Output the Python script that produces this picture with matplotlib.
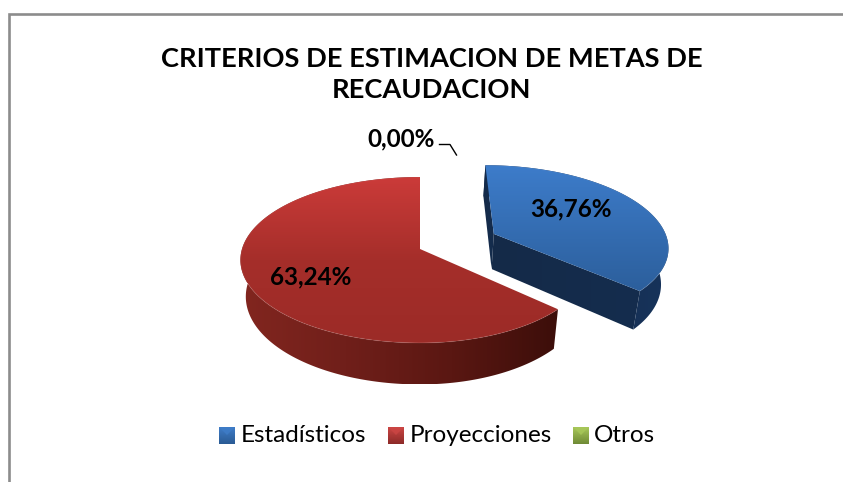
import numpy as np
import matplotlib
matplotlib.use("Agg")
import matplotlib.pyplot as plt
from matplotlib.colors import LinearSegmentedColormap
from matplotlib.patches import Polygon

categorias = ["Estadísticos", "Proyecciones", "Otros"]
valores = [36.76, 63.24, 0.0]
titulo = "CRITERIOS DE ESTIMACION DE METAS DE\nRECAUDACION"

plt.rcParams["font.family"] = ["Lato", "DejaVu Sans"]

W, H = 843, 482
fig = plt.figure(figsize=(W / 100, H / 100), dpi=100)
ax = fig.add_axes([0, 0, 1, 1])
ax.set_xlim(0, W)
ax.set_ylim(H, 0)
ax.axis("off")

# proyeccion del disco a pixeles (con algo de perspectiva)
CX, CY = 420, 249
A_IZQ, B, K = 178, 81.5, 0.1325
ALTO = 36
SEPARA = 0.47
ENCOGE = 0.03  # la base se ve un poco mas angosta que la cara de arriba


def proyectar(u, v, a_der):
    u, v = np.asarray(u, float), np.asarray(v, float)
    w = 1 + K * v
    a = np.where(u > 0, a_der, A_IZQ)
    return CX + a * u / w, CY - B * v / w, ALTO / w


def gradiente(colores, clip, extent, vertical=True):
    cmap = LinearSegmentedColormap.from_list("g", colores)
    g = np.linspace(0, 1, 256)
    g = g.reshape(-1, 1) if vertical else g.reshape(1, -1)
    im = ax.imshow(g, cmap=cmap, extent=extent, aspect="auto", zorder=clip[1], interpolation="bilinear")
    p = Polygon(clip[0], closed=True, transform=ax.transData)
    im.set_clip_path(p)


def pared(pu, pv, a_der, colores, z, vertical=False):
    x, y, d = proyectar(pu, pv, a_der)
    xb = x - ENCOGE * (x - CX)
    pts = np.vstack([np.c_[x, y], np.c_[xb, y + d][::-1]])
    ext = (pts[:, 0].min(), pts[:, 0].max(), pts[:, 1].max(), pts[:, 1].min())
    gradiente(colores, (pts, z), ext, vertical)


def porcion(ini, fin, sep, a_der, cara, lado, corte, z):
    t = np.radians(np.linspace(ini, fin, 200))
    medio = np.radians((ini + fin) / 2)
    ou, ov = sep * np.sin(medio), sep * np.cos(medio)
    u, v = ou + np.sin(t), ov + np.cos(t)
    # paredes primero, la cara de arriba las tapa
    if corte is not None:
        pared([ou, u[0]], [ov, v[0]], a_der, corte, z)
        pared([ou, u[-1]], [ov, v[-1]], a_der, corte, z)
    pared(u, v, a_der, lado, z + 0.1)
    x, y, _ = proyectar(np.r_[ou, u], np.r_[ov, v], a_der)
    pts = np.c_[x, y]
    ext = (x.min(), x.max(), y.max(), y.min())
    gradiente(cara, (pts, z + 0.2), ext)
    # brillo del borde
    bx, by, _ = proyectar(u, v, a_der)
    ax.plot(bx, by, color="white", alpha=0.06, lw=1, zorder=z + 0.3)


total = sum(valores)
ang_azul = 360 * valores[0] / total
ang_rojo = 360 * valores[1] / total

porcion(ang_azul, ang_azul + ang_rojo, 0, 170,
        ["#cb3b39", "#a52e2a", "#9c2b27"],
        ["#82261f", "#701f1a", "#5a1712", "#3c0e0a"],
        None, 2)
porcion(0, ang_azul, SEPARA, 176,
        ["#3d7cca", "#2c5f9c"],
        ["#132a4a", "#17335a"],
        ["#142a48", "#152d4e"], 3)

# etiquetas
fmt = [f"{v:.2f}%".replace(".", ",") for v in valores]
pos_etq = [(571, 209), (311, 277), (401, 139)]
for txt, (px, py) in zip(fmt, pos_etq):
    ax.text(px, py, txt, ha="center", va="center", fontsize=17.5, fontweight="bold", color="black", zorder=10)
ax.plot([439.5, 450, 456.5], [144.5, 144.5, 155], color="black", lw=1, zorder=10)

# titulo
ax.text(432, 74.5, titulo, ha="center", va="center", fontsize=19.6, fontweight="bold",
        color="black", linespacing=1.36, zorder=10)

# leyenda
col_ley = [("#2a5a94", "#3f7dc8"), ("#8c2a28", "#cc4644"), ("#6f8a35", "#a8c85a")]
x_cuadro = [219, 388, 573]
x_texto = [241, 410, 594]
for nombre, (c1, c2), xc, xt in zip(categorias, col_ley, x_cuadro, x_texto):
    cuad = [(xc, 427), (xc + 16, 427), (xc + 16, 444), (xc, 444)]
    gradiente([c2, c1], (cuad, 8), (xc, xc + 16, 444, 427))
    ax.add_patch(Polygon([(xc + 1, 428), (xc + 15, 428), (xc + 8, 435)], closed=True, fc=c2, ec="none", alpha=0.8, zorder=9))
    ax.text(xt, 435, nombre, ha="left", va="center", fontsize=17.5, color="black", zorder=10)

# marco gris (recortado arriba a la izquierda)
ax.plot([8.7, 8.7, W], [H, 14, 14], color="#8c8c8c", lw=1.9, solid_joinstyle="miter", zorder=1)

ax.set_xlim(0, W)
ax.set_ylim(H, 0)
fig.savefig("out.png", dpi=100, facecolor="white")
